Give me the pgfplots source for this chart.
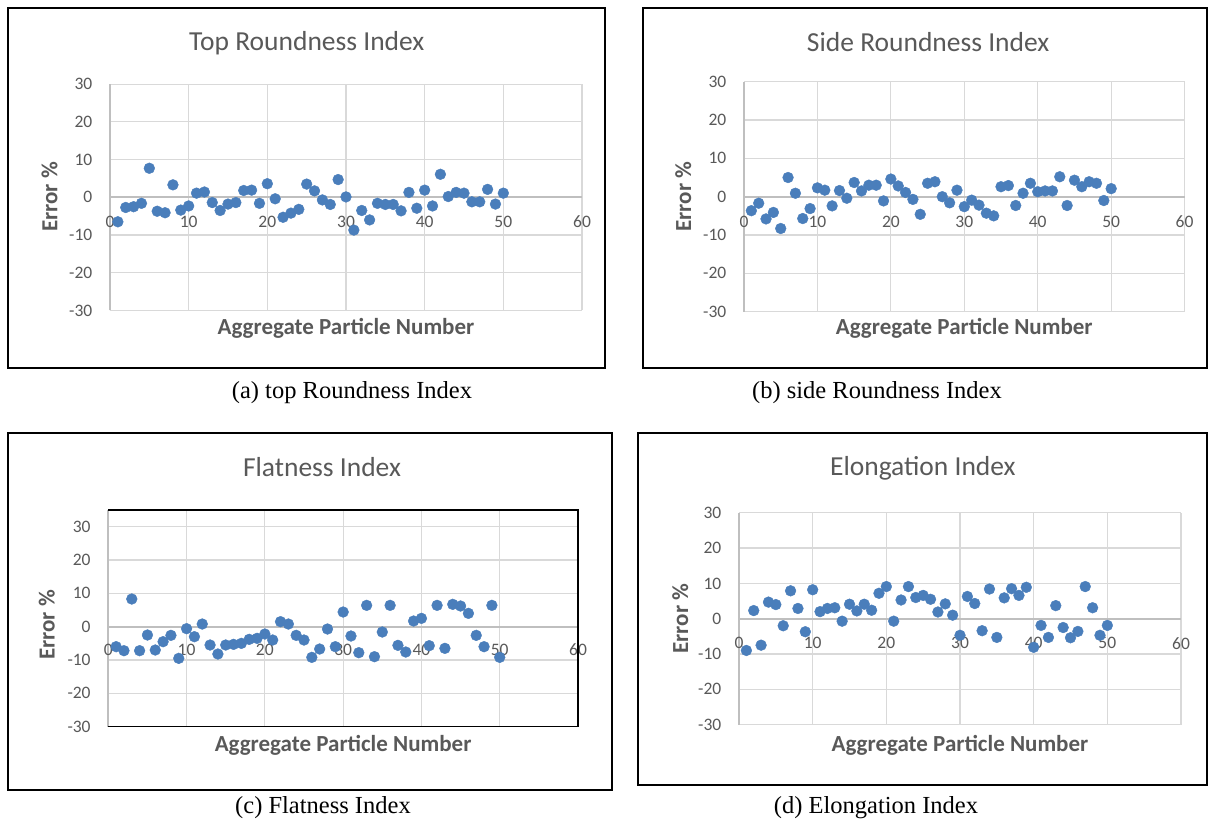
\documentclass[border=0pt]{standalone}
\usepackage{pgfplots}
\pgfplotsset{compat=1.18}
\usepackage{fontspec}
\setmainfont{Carlito}
\newfontfamily\capfont{Liberation Serif}
\definecolor{ptblue}{HTML}{4A7EBB}
\definecolor{txt}{HTML}{595959}
\definecolor{gridc}{HTML}{D9D9D9}
\definecolor{axc}{HTML}{BFBFBF}
\pgfplotsset{
  excel/.style={
    scale only axis,
    xmin=0, xmax=60, ymin=-30, ymax=30,
    xtick={0,10,...,60}, xticklabels={0,10,20,30,40,50,60},
    ytick={-30,-20,...,30}, yticklabels={-30,-20,-10,0,10,20,30},
    grid=major, major grid style={draw=gridc, line width=1.2pt},
    axis lines=left, axis line style={-},
    x axis line style={draw=none},
    y axis line style={draw=axc, line width=1.8pt},
    major tick length=0pt,
    tick label style={font=\fontsize{17.5}{17.5}\selectfont, text=txt},
    yticklabel style={anchor=east, inner sep=0pt, xshift=-17.5pt},
    clip=false,
  },
  xtl/.style={xticklabel style={anchor=center, inner sep=0pt, yshift=#1}},
  ttl/.style 2 args={every axis title/.style={at={(axis description cs:#1,#2)}, anchor=center, font=\fontsize{27.5}{29}\selectfont, text=txt}},
  xlb/.style={every axis x label/.style={at={(axis description cs:0.5,#1)}, anchor=center, font=\fontsize{23}{24}\selectfont\bfseries, text=txt}},
  ylb/.style 2 args={every axis y label/.style={at={(axis description cs:#1,#2)}, anchor=center, rotate=90, font=\fontsize{23}{24}\selectfont\bfseries, text=txt}},
  pts/.style={only marks, mark=*, mark size=5.4pt, mark options={fill=ptblue, draw=ptblue}},
}
\begin{document}
\begin{tikzpicture}[x=1pt,y=1pt]
\useasboundingbox (0,0) rectangle (1212,824);
\fill[white] (0,0) rectangle (1212,824);
% panel frames
\draw[black, line width=1.5pt] (8,816) rectangle (605,456);
\draw[black, line width=1.5pt] (643,816) rectangle (1207,456);
\draw[black, line width=1.5pt] (8,391) rectangle (612,34);
\draw[black, line width=1.5pt] (638,391) rectangle (1207,39);

% (a) Top Roundness Index
\begin{axis}[excel, at={(110pt,513.6pt)}, anchor=south west, width=472pt, height=226.2pt,
  xtl=88.4pt, ttl={0.417}{1.182}, xlb=-0.078, ylb={-0.128}{0.501},
  title={Top Roundness Index}, xlabel={Aggregate Particle Number}, ylabel={Error \%}]
\draw[draw=axc, line width=1.8pt] (axis cs:0,0) -- (axis cs:60,0);
\addplot[pts] coordinates {
(1,-6.5) (2,-2.7) (3,-2.5) (4,-1.6) (5,7.7) (6,-3.7) (7,-4.1) (8,3.3) (9,-3.4) (10,-2.3)
(11,1.1) (12,1.4) (13,-1.4) (14,-3.5) (15,-1.8) (16,-1.4) (17,1.8) (18,1.9) (19,-1.6) (20,3.6)
(21,-0.4) (22,-5.3) (23,-4.2) (24,-3.2) (25,3.5) (26,1.7) (27,-0.7) (28,-1.9) (29,4.7) (30,0.1)
(31,-8.7) (32,-3.5) (33,-6.0) (34,-1.6) (35,-1.9) (36,-1.9) (37,-3.6) (38,1.3) (39,-2.9) (40,1.9)
(41,-2.3) (42,6.1) (43,0.2) (44,1.3) (45,1.1) (46,-1.2) (47,-1.2) (48,2.1) (49,-1.8) (50,1.1)
};
\end{axis}

% (b) Side Roundness Index
\begin{axis}[excel, at={(744pt,512.3pt)}, anchor=south west, width=440.6pt, height=230pt,
  xtl=90pt, ttl={0.418}{1.173}, xlb=-0.071, ylb={-0.138}{0.5},
  title={Side Roundness Index}, xlabel={Aggregate Particle Number}, ylabel={Error \%}]
\draw[draw=axc, line width=1.8pt] (axis cs:0,0) -- (axis cs:60,0);
\addplot[pts] coordinates {
(1,-3.65) (2,-1.7) (3,-5.8) (4,-4.1) (5,-8.3) (6,5.0) (7,0.9) (8,-5.7) (9,-3.1) (10,2.3)
(11,1.7) (12,-2.4) (13,1.6) (14,-0.4) (15,3.7) (16,1.5) (17,3.0) (18,3.0) (19,-1.1) (20,4.6)
(21,2.8) (22,1.1) (23,-0.7) (24,-4.6) (25,3.5) (26,3.9) (27,0.0) (28,-1.6) (29,1.7) (30,-2.6)
(31,-0.9) (32,-2.2) (33,-4.3) (34,-5.0) (35,2.6) (36,2.9) (37,-2.3) (38,0.9) (39,3.5) (40,1.3)
(41,1.5) (42,1.5) (43,5.2) (44,-2.3) (45,4.3) (46,2.6) (47,3.9) (48,3.5) (49,-1.0) (50,2.1)
};
\end{axis}

% (c) Flatness Index
\begin{axis}[excel, ymax=35, at={(108.3pt,97.3pt)}, anchor=south west, width=469.7pt, height=216.7pt,
  xtl=76.7pt, ttl={0.455}{1.198}, xlb=-0.084, ylb={-0.131}{0.47},
  title={Flatness Index}, xlabel={Aggregate Particle Number}, ylabel={Error \%}]
\draw[draw=axc, line width=1.8pt] (axis cs:0,0) -- (axis cs:60,0);
\draw[black, line width=1.4pt] (rel axis cs:0,1) -- (rel axis cs:1,1) -- (rel axis cs:1,0) -- (rel axis cs:0,0);
\addplot[pts] coordinates {
(1,-6.0) (2,-7.2) (3,8.3) (4,-7.2) (5,-2.5) (6,-7.0) (7,-4.5) (8,-2.6) (9,-9.5) (10,-0.6)
(11,-3.0) (12,0.8) (13,-5.5) (14,-8.2) (15,-5.5) (16,-5.3) (17,-5.0) (18,-3.8) (19,-3.5) (20,-2.2)
(21,-4.0) (22,1.5) (23,0.8) (24,-2.6) (25,-4.0) (26,-9.2) (27,-6.7) (28,-0.7) (29,-6.0) (30,4.4)
(31,-2.8) (32,-7.8) (33,6.4) (34,-9.0) (35,-1.6) (36,6.4) (37,-5.6) (38,-7.6) (39,1.7) (40,2.5)
(41,-5.7) (42,6.4) (43,-6.5) (44,6.7) (45,6.2) (46,4.0) (47,-2.6) (48,-6.0) (49,6.4) (50,-9.2)
};
\end{axis}

% (d) Elongation Index
\begin{axis}[excel, at={(739pt,99.4pt)}, anchor=south west, width=442pt, height=211.8pt,
  xtl=81.3pt, ttl={0.416}{1.21}, xlb=-0.096, ylb={-0.133}{0.5},
  title={Elongation Index}, xlabel={Aggregate Particle Number}, ylabel={Error \%}]
\draw[draw=axc, line width=1.8pt] (axis cs:0,0) -- (axis cs:60,0);
\addplot[pts] coordinates {
(1,-9.0) (2,2.3) (3,-7.5) (4,4.7) (5,4.0) (6,-2.0) (7,7.9) (8,2.9) (9,-3.7) (10,8.2)
(11,2.0) (12,2.9) (13,3.1) (14,-0.7) (15,4.1) (16,2.2) (17,4.1) (18,2.4) (19,7.2) (20,9.1)
(21,-0.7) (22,5.3) (23,9.1) (24,6.0) (25,6.6) (26,5.5) (27,1.9) (28,4.2) (29,1.0) (30,-4.7)
(31,6.3) (32,4.3) (33,-3.4) (34,8.4) (35,-5.3) (36,5.9) (37,8.5) (38,6.6) (39,8.9) (40,-8.1)
(41,-1.9) (42,-5.3) (43,3.7) (44,-2.5) (45,-5.4) (46,-3.6) (47,9.1) (48,3.1) (49,-4.7) (50,-1.9)
};
\end{axis}

% captions
\node[font=\capfont\fontsize{24.5}{26}\selectfont] at (352,431) {(a) top Roundness Index};
\node[font=\capfont\fontsize{24.5}{26}\selectfont] at (877,431) {(b) side Roundness Index};
\node[font=\capfont\fontsize{24.5}{26}\selectfont] at (323,16) {(c) Flatness Index};
\node[font=\capfont\fontsize{24.5}{26}\selectfont] at (876,16) {(d) Elongation Index};
\end{tikzpicture}
\end{document}
